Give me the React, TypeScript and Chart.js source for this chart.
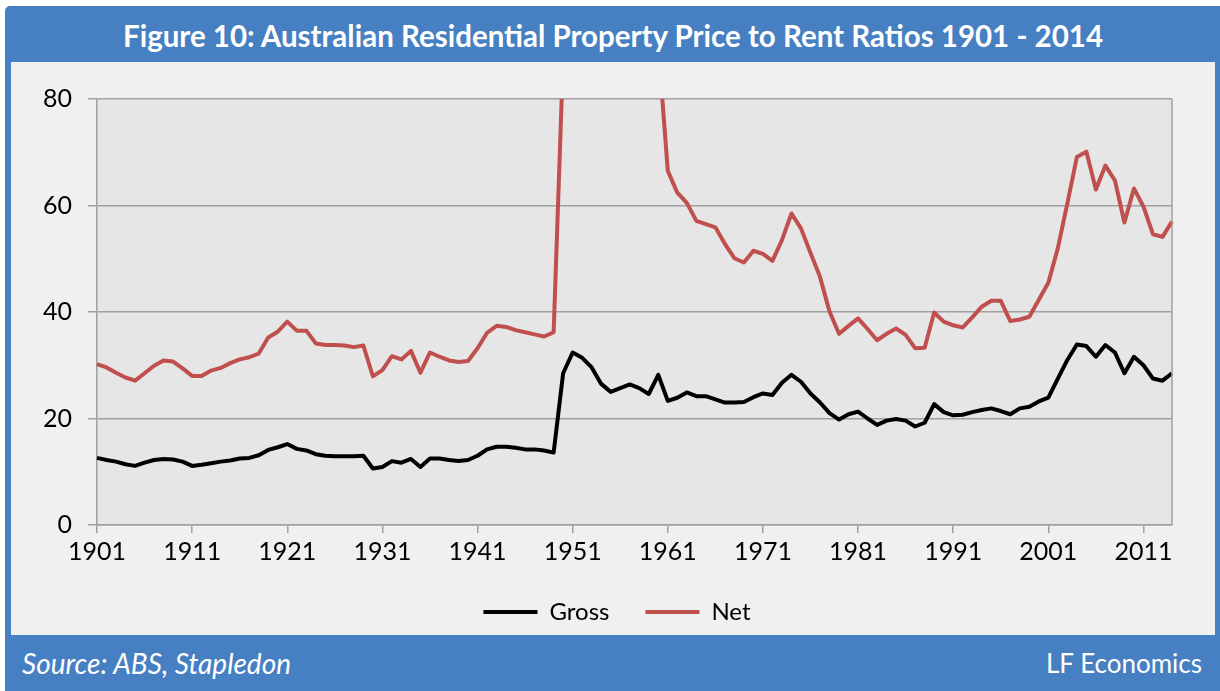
import React, { useEffect, useRef } from "react";
import { Chart, registerables } from "chart.js";

Chart.register(...registerables);

const FIRST_YEAR = 1901;
const LAST_YEAR = 2014;
const years: string[] = [];
for (let y = FIRST_YEAR; y <= LAST_YEAR; y++) years.push(String(y));

const xTickLabels = ["1901", "1911", "1921", "1931", "1941", "1951", "1961", "1971", "1981", "1991", "2001", "2011"];
const yTicks = [0, 20, 40, 60, 80];

const grossSeries = [
  12.6, 12.2, 11.9, 11.4, 11.1, 11.7, 12.2, 12.4, 12.3, 11.9,
  11.1, 11.3, 11.6, 11.9, 12.1, 12.5, 12.6, 13.1, 14.1, 14.6,
  15.2, 14.3, 14.0, 13.3, 13.0, 12.9, 12.9, 12.9, 13.0, 10.6,
  10.9, 12.0, 11.7, 12.4, 10.9, 12.5, 12.5, 12.2, 12.0, 12.2,
  13.0, 14.2, 14.7, 14.7, 14.5, 14.2, 14.2, 14.0, 13.6, 28.5,
  32.4, 31.4, 29.6, 26.5, 25.0, 25.7, 26.4, 25.7, 24.6, 28.2,
  23.3, 23.9, 24.9, 24.2, 24.2, 23.6, 23.0, 23.0, 23.1, 24.0,
  24.7, 24.4, 26.7, 28.2, 26.9, 24.7, 23.0, 21.0, 19.8, 20.8,
  21.3, 20.0, 18.8, 19.6, 19.9, 19.6, 18.5, 19.2, 22.7, 21.2,
  20.6, 20.7, 21.2, 21.6, 21.9, 21.4, 20.8, 21.9, 22.2, 23.2,
  23.9, 27.5, 31.0, 33.9, 33.6, 31.6, 33.8, 32.4, 28.5, 31.6,
  30.0, 27.5, 27.1, 28.5,
];

const netSeries = [
  30.2, 29.6, 28.6, 27.7, 27.1, 28.5, 29.9, 30.9, 30.7, 29.4,
  28.0, 28.0, 29.0, 29.5, 30.4, 31.1, 31.5, 32.2, 35.2, 36.3,
  38.2, 36.5, 36.5, 34.1, 33.8, 33.8, 33.7, 33.4, 33.7, 27.9,
  29.1, 31.7, 31.1, 32.7, 28.6, 32.4, 31.6, 30.9, 30.6, 30.8,
  33.2, 36.1, 37.4, 37.2, 36.6, 36.2, 35.8, 35.4, 36.2, 88,
  140, 180, 210, 190, 170, 150, 130, 115, 100, 90,
  66.5, 62.4, 60.5, 57.1, 56.5, 55.9, 52.8, 50.1, 49.3, 51.5,
  50.9, 49.6, 53.5, 58.5, 55.7, 51.1, 46.6, 40.1, 35.9, 37.4,
  38.8, 36.8, 34.7, 35.9, 36.9, 35.7, 33.2, 33.3, 39.9, 38.2,
  37.5, 37.1, 39.0, 41.0, 42.1, 42.1, 38.3, 38.6, 39.1, 42.3,
  45.5, 52.0, 60.4, 69.1, 70.1, 63.0, 67.5, 64.7, 56.8, 63.2,
  59.8, 54.6, 54.1, 57.0,
];

const BLUE = "#4680C2";
const FONT = "Lato, 'Open Sans', sans-serif";

const plotBg = {
  id: "plotBg",
  beforeDraw(chart: any) {
    const { ctx, chartArea } = chart;
    ctx.save();
    ctx.fillStyle = "#E6E6E6";
    ctx.fillRect(chartArea.left, chartArea.top, chartArea.right - chartArea.left, chartArea.bottom - chartArea.top);
    ctx.restore();
  },
  afterDraw(chart: any) {
    const { ctx, chartArea } = chart;
    ctx.save();
    ctx.strokeStyle = "#A0A0A0";
    ctx.lineWidth = 1.5;
    ctx.beginPath();
    ctx.moveTo(chartArea.right, chartArea.top);
    ctx.lineTo(chartArea.right, chartArea.bottom);
    ctx.stroke();
    ctx.restore();
  },
};

function ChartPanel() {
  const ref = useRef<HTMLCanvasElement | null>(null);
  useEffect(() => {
    if (!ref.current) return;
    const chart = new Chart(ref.current, {
      type: "line",
      data: {
        labels: years,
        datasets: [
          {
            label: "Gross",
            data: grossSeries,
            borderColor: "#000000",
            backgroundColor: "#000000",
            borderWidth: 4,
            pointRadius: 0,
            tension: 0,
            borderJoinStyle: "round",
            clip: { left: 3, right: 3, top: 0, bottom: 3 } as any,
          },
          {
            label: "Net",
            data: netSeries,
            borderColor: "#C0504D",
            backgroundColor: "#C0504D",
            borderWidth: 4,
            pointRadius: 0,
            tension: 0,
            borderJoinStyle: "round",
            clip: { left: 3, right: 3, top: 0, bottom: 3 } as any,
          },
        ],
      },
      options: {
        animation: false,
        responsive: false,
        maintainAspectRatio: false,
        events: [],
        layout: { padding: { left: 0, right: 0, top: 37, bottom: 1 } },
        plugins: {
          legend: {
            position: "bottom",
            labels: {
              usePointStyle: true,
              pointStyle: "line",
              pointStyleWidth: 54,
              boxHeight: 24,
              padding: 36,
              color: "#000",
              font: { family: FONT, size: 24 },
            },
          },
          tooltip: { enabled: false },
        },
        scales: {
          x: {
            type: "category",
            offset: false,
            grid: { display: true, drawOnChartArea: false, drawTicks: true, tickLength: 8, color: "#A0A0A0", lineWidth: 1.5 },
            border: { display: true, color: "#A0A0A0", width: 1.5 },
            ticks: {
              autoSkip: false,
              maxRotation: 0,
              minRotation: 0,
              padding: 4,
              color: "#000",
              font: { family: FONT, size: 25 },
              callback: (_v: any, i: number) => (xTickLabels.includes(years[i]) ? years[i] : null),
            },
            afterFit: (s: any) => {
              s.height = 39;
            },
          },
          y: {
            min: yTicks[0],
            max: yTicks[yTicks.length - 1],
            afterBuildTicks: (s: any) => {
              s.ticks = yTicks.map((v) => ({ value: v }));
            },
            grid: { color: "#A0A0A0", lineWidth: 1.5, tickLength: 9 },
            border: { display: true, color: "#A0A0A0", width: 1.5 },
            ticks: { padding: 16, color: "#000", font: { family: FONT, size: 25 } },
            afterFit: (s: any) => {
              s.width = 86;
            },
          },
          yRightSpace: {
            type: "linear",
            position: "right",
            display: true,
            grid: { display: false, drawTicks: false },
            border: { display: false },
            ticks: { display: false },
            afterFit: (s: any) => {
              s.width = 51;
            },
          },
        },
      },
      plugins: [plotBg],
    });
    return () => chart.destroy();
  }, []);
  return <canvas ref={ref} width={1212} height={573} style={{ display: "block", width: 1212, height: 573 }} />;
}

export default function App() {
  return (
    <div style={{ position: "fixed", left: 0, top: 0, width: 1220, height: 691, background: "#fff", overflow: "hidden" }}>
      <div
        style={{
          position: "absolute",
          left: 5,
          top: 6,
          width: 1215,
          height: 685,
          background: BLUE,
          borderTopLeftRadius: 5,
        }}
      />
      <div
        style={{
          position: "absolute",
          left: 11,
          top: 7,
          width: 1204,
          height: 56,
          display: "flex",
          alignItems: "center",
          justifyContent: "center",
          color: "#fff",
          fontFamily: FONT,
          fontWeight: 700,
          fontSize: 29.5,
          whiteSpace: "nowrap",
        }}
      >
        Figure 10: Australian Residential Property Price to Rent Ratios 1901 - 2014
      </div>
      <div style={{ position: "absolute", left: 11, top: 62, width: 1204, height: 573, background: "#F0F0F0" }} />
      <div style={{ position: "absolute", left: 11, top: 62, width: 1212, height: 573 }}>
        <ChartPanel />
      </div>
      <div
        style={{
          position: "absolute",
          left: 22,
          top: 635,
          height: 56,
          display: "flex",
          alignItems: "center",
          color: "#fff",
          fontFamily: FONT,
          fontStyle: "italic",
          fontSize: 28,
          whiteSpace: "nowrap",
        }}
      >
        Source: ABS, Stapledon
      </div>
      <div
        style={{
          position: "absolute",
          right: 18,
          top: 635,
          height: 56,
          display: "flex",
          alignItems: "center",
          color: "#fff",
          fontFamily: FONT,
          fontSize: 26,
          whiteSpace: "nowrap",
        }}
      >
        LF Economics
      </div>
    </div>
  );
}
